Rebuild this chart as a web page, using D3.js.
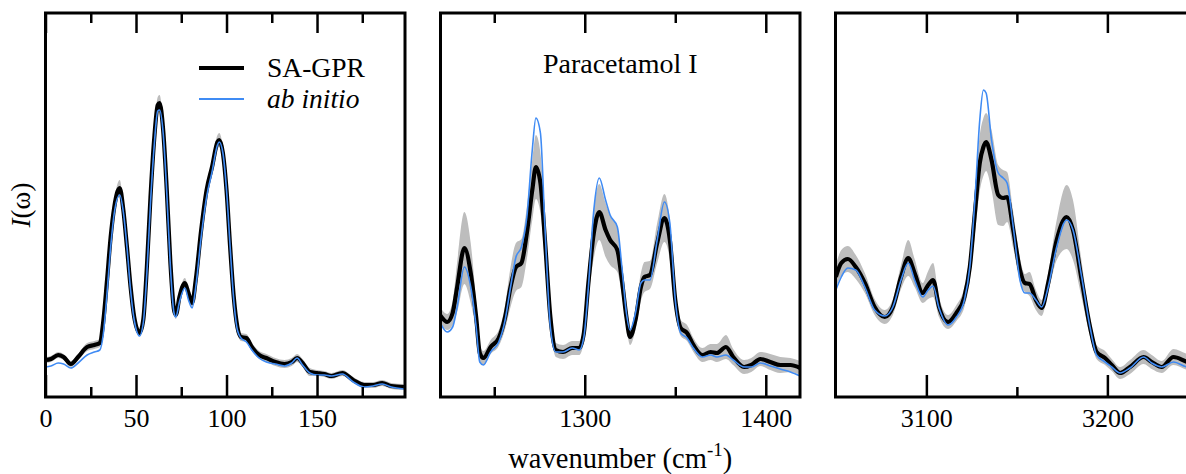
<!DOCTYPE html>
<html>
<head>
<meta charset="utf-8">
<script src="https://cdn.jsdelivr.net/npm/d3@7"></script>
<style>
  html, body { margin: 0; padding: 0; background: #fff; }
  svg, svg text { font-family: "Liberation Serif", "Times New Roman", serif; }
  svg { display: block; }
</style>
</head>
<body>
<svg id="chart" width="1186" height="474"></svg>
<script>
// low-frequency window
const wn1 = [0,3,7,10,14,18,23,27,30,32, 34,36,38,41,43,45,47,49,52,54, 56,58,60,62,63,65,67,69,71,72, 74,77,79,81,83,86,89,92,95,96, 98,100,102,104,106,108,111,114,118,122, 127,132,136,139,142,146,150,154,158,164, 170,176,181,186,191,198];
const gpr1 = [37,38,42,40,33,40,50,52,54,77, 117,160,190,209,187,150,110,80,64,77, 130,200,257,292,294,267,207,134,87,82, 100,114,104,94,117,167,207,230,255,257, 244,207,150,100,70,60,59,50,42,39, 35,33,35,39,34,25,24,23,21,24, 17,12,12,14,11,10];
const abi1 = [30,31,34,33,29,34,42,45,47,64, 104,150,184,202,185,150,107,77,61,74, 124,194,250,286,287,264,204,130,84,80, 95,109,97,89,110,160,200,225,252,255, 244,207,150,97,67,59,55,47,39,35, 33,31,34,39,32,24,22,22,21,23, 15,10,11,13,10,8];
const sd1 = [3,3,3,3,3,3,4,4,4,4, 5,6,7,8,6,5,4,4,3,4, 5,6,7,8,8,7,6,5,4,4, 5,5,4,4,4,5,6,6,7,7, 6,5,5,4,4,4,4,4,4,4, 4,4,4,4,4,4,3,3,3,3, 3,3,3,3,3,3];

// fingerprint window
const wn2 = [1220,1224,1227,1229.5,1233.5,1237,1240,1242,1244,1248, 1252.5,1256,1259,1262,1265,1268,1271,1273,1275.5,1278, 1281,1284,1288,1293,1297,1299.5,1302,1305,1308,1311.5, 1314,1318,1320.5,1323,1325,1328,1331,1333,1336,1340, 1344,1347,1350,1353,1356.5,1360,1365,1369.5,1373,1378, 1382,1388,1392,1397,1402.5,1408,1413.6,1419];
const gpr2 = [82,75,84,110,149,124,80,44,39,50, 59,80,110,130,134,164,207,230,214,157, 80,47,45,49,49,64,114,164,185,167, 157,147,117,80,60,77,110,120,122,154, 179,157,97,69,64,52,42,45,44,50, 40,30,32,38,35,32,32,29];
const abi2 = [75,65,70,90,130,110,70,35,32,45, 55,77,110,140,150,180,247,279,264,170, 70,45,45,49,47,60,110,187,219,197, 182,170,130,84,67,84,114,117,117,157, 195,174,97,64,59,49,40,42,40,42, 37,30,30,34,31,28,25,21];
const sd2 = [8,8,12,25,36,30,15,8,7,7, 8,12,20,24,24,26,30,32,30,22, 10,7,7,7,7,8,15,25,28,27, 25,22,15,9,8,10,14,15,14,20, 24,20,12,8,8,7,7,8,9,12, 8,7,7,7,8,8,7,7];

// C-H stretch window
const wn3 = [3050,3053,3056.6,3061,3066,3071.4,3077,3081.5,3086,3090, 3093.5,3098,3101,3103.7,3107,3112,3116.6,3121,3124,3126.8, 3129.5,3131.5,3133,3136,3139.7,3142.4,3144.6,3148,3151.7,3154.4, 3157,3160.5,3163.7,3167.3,3172,3177.5,3181,3185.8,3190.4,3194, 3198.7,3202.4,3207,3212.5,3220,3224.5,3230,3236.5,3244.5,3250];
const gpr3 = [120,134,138,130,114,90,80,90,120,139, 124,104,112,117,90,75,84,100,130,184, 234,250,255,237,202,199,200,167,127,114, 113,97,89,114,157,180,167,117,70,45, 39,32,24,30,40,35,30,40,35,34];
const abi3 = [107,120,129,127,110,87,81,90,117,134, 117,100,107,111,89,72,80,97,130,197, 277,307,304,257,224,219,214,170,117,104, 104,97,90,110,150,177,167,120,70,42, 35,30,24,29,40,34,30,35,30,30];
const sd3 = [12,13,13,12,10,8,7,8,12,18, 14,10,14,17,10,7,8,10,14,22, 28,29,29,30,30,28,25,18,12,9, 12,10,8,10,20,32,30,18,9,7, 7,6,6,7,7,7,6,8,8,8];

const xDomains = [[0, 198.6], [1220.3, 1418.9], [3049.8, 3248.4]];
const majorTicks = [[0, 50, 100, 150], [1300, 1400], [3100, 3200]];
const minorTicks = [[25, 75, 125, 175], [1250, 1350], [3150]];
const yDomain = [0, 384];

const seriesNames = ["SA-GPR", "ab initio"];
const panelTitle = "Paracetamol I";

const panels = [
  { wn: wn1, gpr: gpr1, abi: abi1, sd: sd1 },
  { wn: wn2, gpr: gpr2, abi: abi2, sd: sd2 },
  { wn: wn3, gpr: gpr3, abi: abi3, sd: sd3 },
];

const serif = '"Liberation Serif", "Times New Roman", serif';
const plotTop = 13, plotBottom = 397, panelW = 359.5, step = 395, left0 = 45.5;
const blue = "#3f8bf4";
const svg = d3.select("#chart");
const y = d3.scaleLinear().domain(yDomain).range([plotBottom, plotTop]);

panels.forEach((p, i) => {
  const x0 = left0 + i * step;
  const x = d3.scaleLinear().domain(xDomains[i]).range([x0, x0 + panelW]);
  const rows = p.wn.map((w, k) => ({ w, gpr: p.gpr[k], abi: p.abi[k], sd: p.sd[k] }));

  svg.append("clipPath").attr("id", `clip${i}`)
    .append("rect").attr("x", x0).attr("y", plotTop).attr("width", panelW).attr("height", plotBottom - plotTop);
  const g = svg.append("g").attr("clip-path", `url(#clip${i})`);

  const band = d3.area().x((d) => x(d.w)).y0((d) => y(d.gpr - d.sd)).y1((d) => y(d.gpr + d.sd)).curve(d3.curveMonotoneX);
  g.append("path").datum(rows).attr("fill", "#bdbdbd").attr("d", band);
  const line = (key) => d3.line().x((d) => x(d.w)).y((d) => y(d[key])).curve(d3.curveMonotoneX);
  g.append("path").datum(rows).attr("fill", "none").attr("stroke", "#000").attr("stroke-width", 4.2)
    .attr("stroke-linejoin", "round").attr("d", line("gpr"));
  g.append("path").datum(rows).attr("fill", "none").attr("stroke", blue).attr("stroke-width", 1.6)
    .attr("stroke-linejoin", "round").attr("d", line("abi"));

  // inward ticks on top and bottom
  const addAxis = (axis, ty) => {
    const a = svg.append("g").attr("transform", `translate(0,${ty})`).call(axis);
    a.attr("font-family", serif).attr("font-size", 26);
    a.select(".domain").remove();
    a.selectAll("line").attr("stroke-width", 2.5);
    return a;
  };
  addAxis(d3.axisTop(x).tickValues(majorTicks[i]).tickSize(-20).tickFormat(""), plotTop);
  addAxis(d3.axisTop(x).tickValues(minorTicks[i]).tickSize(-10).tickFormat(""), plotTop);
  addAxis(d3.axisBottom(x).tickValues(minorTicks[i]).tickSize(-10).tickFormat(""), plotBottom);
  const ax = addAxis(d3.axisBottom(x).tickValues(majorTicks[i]).tickSize(-22).tickPadding(12).tickFormat(d3.format("d")), plotBottom);
  ax.selectAll("text").attr("fill", "#000");

  svg.append("rect").attr("x", x0).attr("y", plotTop).attr("width", panelW).attr("height", plotBottom - plotTop)
    .attr("fill", "none").attr("stroke", "#000").attr("stroke-width", 3);
});

// legend in first panel
const legend = svg.append("g").attr("font-family", serif);
legend.append("line").attr("x1", 199).attr("x2", 244).attr("y1", 68).attr("y2", 68).attr("stroke", "#000").attr("stroke-width", 4);
legend.append("line").attr("x1", 199).attr("x2", 244).attr("y1", 99).attr("y2", 99).attr("stroke", blue).attr("stroke-width", 2.2);
legend.append("text").attr("x", 267).attr("y", 77).attr("font-size", 27.5).text(seriesNames[0]);
legend.append("text").attr("x", 267).attr("y", 108).attr("font-size", 27.5).attr("font-style", "italic").text(seriesNames[1]);

// title in middle panel
svg.append("text").attr("x", left0 + step + panelW / 2).attr("y", 73).attr("text-anchor", "middle")
  .attr("font-family", serif).attr("font-size", 28).text(panelTitle);

// axis labels
const xl = svg.append("text").attr("x", left0 + step + panelW / 2).attr("y", 468).attr("text-anchor", "middle")
  .attr("font-family", serif).attr("font-size", 28.5);
xl.append("tspan").text("wavenumber (cm");
xl.append("tspan").attr("dy", -12).attr("font-size", 19).text("-1");
xl.append("tspan").attr("dy", 12).text(")");

const yl = svg.append("text").attr("transform", `translate(30,${(plotTop + plotBottom) / 2}) rotate(-90)`)
  .attr("text-anchor", "middle").attr("font-family", serif).attr("font-size", 27);
yl.append("tspan").attr("font-style", "italic").text("I");
yl.append("tspan").text("(ω)");
</script>
</body>
</html>
